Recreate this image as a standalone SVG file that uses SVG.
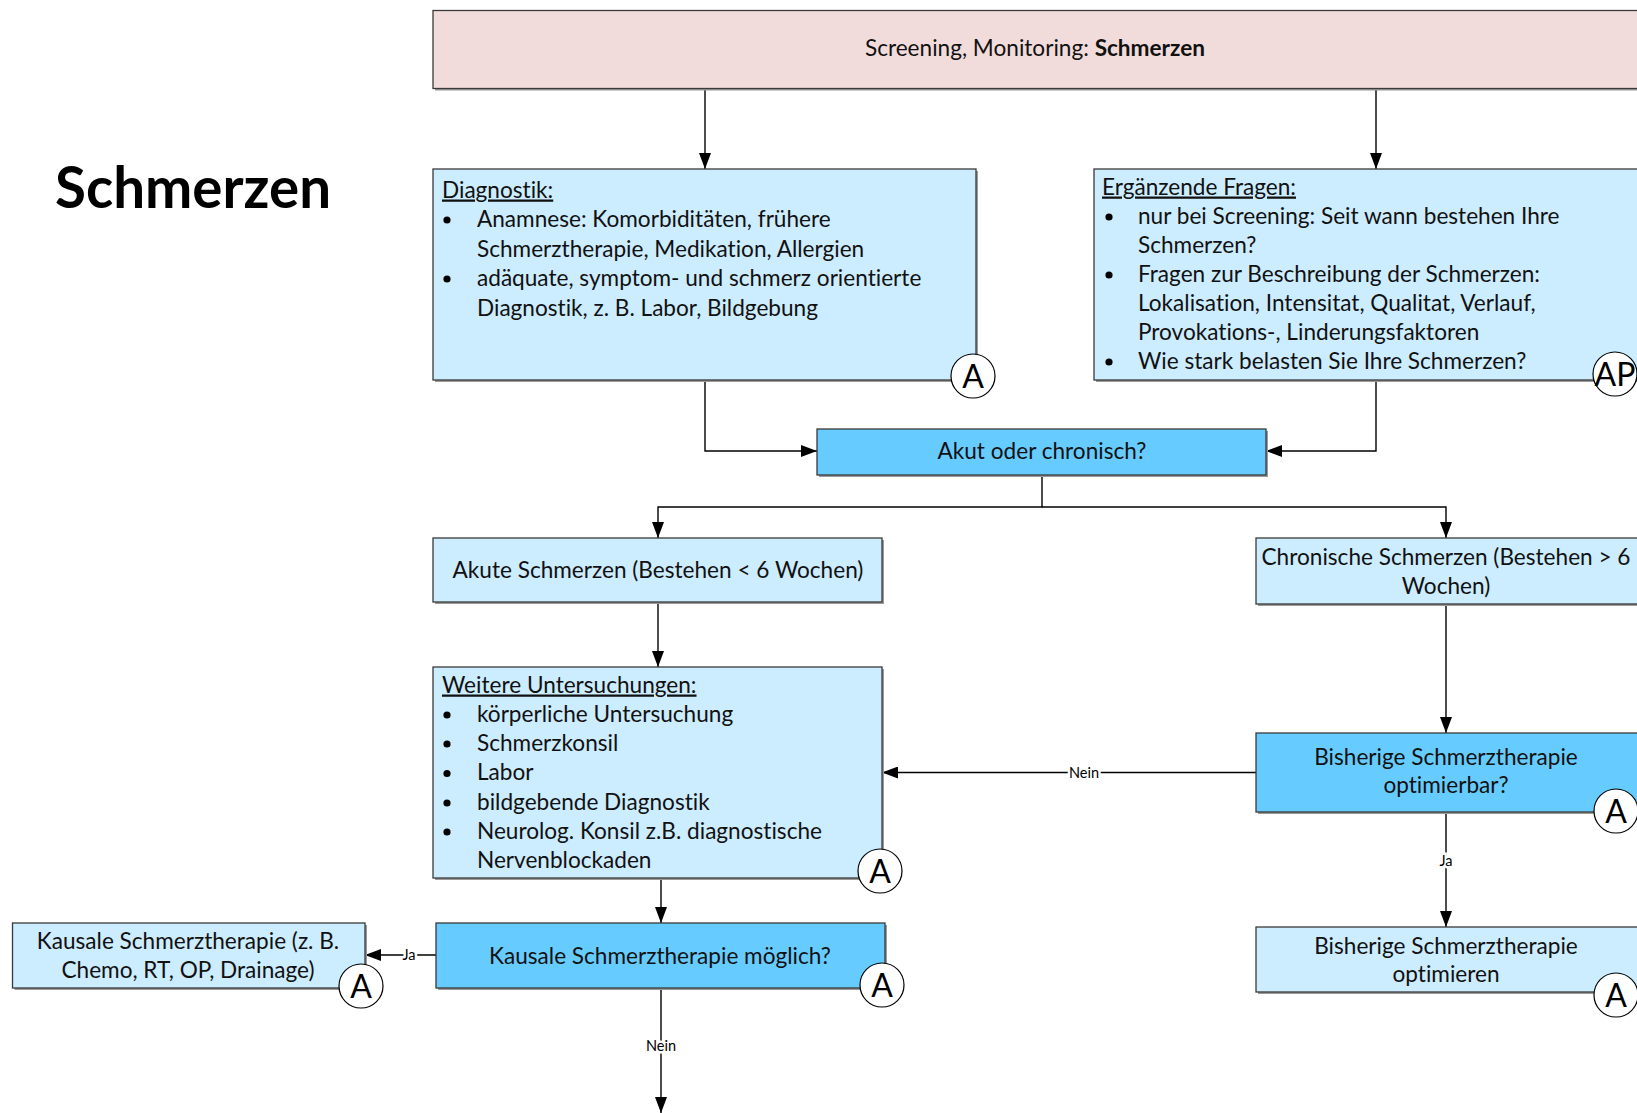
<svg xmlns="http://www.w3.org/2000/svg" width="1637" height="1113" viewBox="0 0 1637 1113">
  <defs>
    <marker id="arrow" viewBox="0 0 16 12" refX="16" refY="6" markerWidth="16" markerHeight="12" markerUnits="userSpaceOnUse" orient="auto">
      <path d="M0,0 L16,6 L0,12 z" fill="#000"/>
    </marker>
    <style>
      text { font-family: Lato, "Liberation Sans", sans-serif; fill: #111; font-variant-ligatures: none; }
      .box { stroke: #3a3a3a; stroke-width: 1.3; }
      .shadow { fill: #9a9a9a; }
      .pink { fill: #F2DCDB; }
      .light { fill: #CCECFF; }
      .strong { fill: #66CCFF; }
      .t { font-size: 22.6px; }
      .c { text-anchor: middle; }
      .hdr { text-decoration: underline; }
      .bullet { fill: #000; }
      .mark circle { fill: #fff; stroke: #000; stroke-width: 1.2; }
      .mark text { font-size: 32px; text-anchor: middle; fill: #000; }
      .edge { fill: none; stroke: #000; stroke-width: 1.4; }
      .lbl { font-size: 14.5px; text-anchor: middle; fill: #000; stroke: #fff; stroke-width: 5; paint-order: stroke; }
      .title { font-size: 56.5px; font-weight: bold; fill: #000; }
    </style>
  </defs>

  <rect width="1637" height="1113" fill="#fff"/>

  <!-- page title -->
  <text class="title" x="55" y="208">Schmerzen</text>

  <!-- connectors -->
  <g id="connectors">
    <path class="edge" d="M705,89 V169" marker-end="url(#arrow)"/>
    <path class="edge" d="M1376,89 V169" marker-end="url(#arrow)"/>
    <path class="edge" d="M705,380 V451 H817" marker-end="url(#arrow)"/>
    <path class="edge" d="M1376,380 V451 H1266" marker-end="url(#arrow)"/>
    <path class="edge" d="M1042,475 V507 H658 V538" marker-end="url(#arrow)"/>
    <path class="edge" d="M1042,507 H1446 V538" marker-end="url(#arrow)"/>
    <path class="edge" d="M658,602 V667" marker-end="url(#arrow)"/>
    <path class="edge" d="M1446,604 V733" marker-end="url(#arrow)"/>
    <path class="edge" d="M1256,772.5 H882" marker-end="url(#arrow)"/>
    <text class="lbl" x="1084" y="777.5">Nein</text>
    <path class="edge" d="M1446,812 V927" marker-end="url(#arrow)"/>
    <text class="lbl" x="1446" y="866">Ja</text>
    <path class="edge" d="M661,878 V923" marker-end="url(#arrow)"/>
    <path class="edge" d="M436,955 H365" marker-end="url(#arrow)"/>
    <text class="lbl" x="409" y="960">Ja</text>
    <path class="edge" d="M661,988 V1113" marker-end="url(#arrow)"/>
    <text class="lbl" x="661" y="1051">Nein</text>
  </g>

  <!-- Screening / Monitoring -->
  <g id="screening">
    <rect class="shadow" x="435" y="12" width="1204" height="78.5"/>
    <rect class="box pink" x="433" y="10.5" width="1206" height="78"/>
    <text class="t c" x="1035" y="56">Screening, Monitoring: <tspan font-weight="bold">Schmerzen</tspan></text>
  </g>

  <!-- Diagnostik -->
  <g id="diagnostik">
    <rect class="shadow" x="435" y="171" width="543" height="211"/>
    <rect class="box light" x="433" y="169" width="543" height="211"/>
    <text class="t hdr" x="442" y="197.5">Diagnostik:</text>
    <circle class="bullet" cx="447" cy="220" r="3.6"/>
    <text class="t" x="477" y="227">Anamnese: Komorbiditäten, frühere</text>
    <text class="t" x="477" y="256.5">Schmerztherapie, Medikation, Allergien</text>
    <circle class="bullet" cx="447" cy="279" r="3.6"/>
    <text class="t" x="477" y="286">adäquate, symptom- und schmerz orientierte</text>
    <text class="t" x="477" y="315.5">Diagnostik, z. B. Labor, Bildgebung</text>
    <g class="mark"><circle cx="973" cy="376" r="22"/><text x="973" y="387.5">A</text></g>
  </g>

  <!-- Ergänzende Fragen -->
  <g id="fragen">
    <rect class="shadow" x="1096" y="171" width="543" height="211"/>
    <rect class="box light" x="1094" y="169" width="545" height="211"/>
    <text class="t hdr" x="1102" y="194.5">Ergänzende Fragen:</text>
    <circle class="bullet" cx="1109" cy="217" r="3.6"/>
    <text class="t" x="1138" y="223.5">nur bei Screening: Seit wann bestehen Ihre</text>
    <text class="t" x="1138" y="252.5">Schmerzen?</text>
    <circle class="bullet" cx="1109" cy="275" r="3.6"/>
    <text class="t" x="1138" y="281.5">Fragen zur Beschreibung der Schmerzen:</text>
    <text class="t" x="1138" y="310.5">Lokalisation, Intensitat, Qualitat, Verlauf,</text>
    <text class="t" x="1138" y="339.5">Provokations-, Linderungsfaktoren</text>
    <circle class="bullet" cx="1109" cy="362" r="3.6"/>
    <text class="t" x="1138" y="368.5">Wie stark belasten Sie Ihre Schmerzen?</text>
    <g class="mark"><circle cx="1615" cy="374" r="22"/><text x="1615" y="385.5">AP</text></g>
  </g>

  <!-- Akut oder chronisch? -->
  <g id="akut-chronisch">
    <rect class="shadow" x="819" y="431" width="449" height="46"/>
    <rect class="box strong" x="817" y="429" width="449" height="46"/>
    <text class="t c" x="1042" y="459">Akut oder chronisch?</text>
  </g>

  <!-- Akute Schmerzen -->
  <g id="akut">
    <rect class="shadow" x="435" y="540" width="449" height="64"/>
    <rect class="box light" x="433" y="538" width="449" height="64"/>
    <text class="t c" x="658" y="578">Akute Schmerzen (Bestehen &lt; 6 Wochen)</text>
  </g>

  <!-- Chronische Schmerzen -->
  <g id="chronisch">
    <rect class="shadow" x="1258" y="540" width="381" height="66"/>
    <rect class="box light" x="1256" y="538" width="383" height="66"/>
    <text class="t c" x="1446" y="565">Chronische Schmerzen (Bestehen &gt; 6</text>
    <text class="t c" x="1446" y="593.5">Wochen)</text>
  </g>

  <!-- Weitere Untersuchungen -->
  <g id="untersuchungen">
    <rect class="shadow" x="435" y="669" width="449" height="211"/>
    <rect class="box light" x="433" y="667" width="449" height="211"/>
    <text class="t hdr" x="442" y="692.5">Weitere Untersuchungen:</text>
    <circle class="bullet" cx="447" cy="715" r="3.6"/>
    <text class="t" x="477" y="721.5">körperliche Untersuchung</text>
    <circle class="bullet" cx="447" cy="744" r="3.6"/>
    <text class="t" x="477" y="750.5">Schmerzkonsil</text>
    <circle class="bullet" cx="447" cy="773.5" r="3.6"/>
    <text class="t" x="477" y="780">Labor</text>
    <circle class="bullet" cx="447" cy="803" r="3.6"/>
    <text class="t" x="477" y="809.5">bildgebende Diagnostik</text>
    <circle class="bullet" cx="447" cy="832" r="3.6"/>
    <text class="t" x="477" y="838.5">Neurolog. Konsil z.B. diagnostische</text>
    <text class="t" x="477" y="867.5">Nervenblockaden</text>
    <g class="mark"><circle cx="880" cy="871" r="22"/><text x="880" y="882.5">A</text></g>
  </g>

  <!-- Bisherige Schmerztherapie optimierbar? -->
  <g id="optimierbar">
    <rect class="shadow" x="1258" y="735" width="381" height="79"/>
    <rect class="box strong" x="1256" y="733" width="383" height="79"/>
    <text class="t c" x="1446" y="764.5">Bisherige Schmerztherapie</text>
    <text class="t c" x="1446" y="792.5">optimierbar?</text>
    <g class="mark"><circle cx="1616" cy="811" r="22"/><text x="1616" y="822.5">A</text></g>
  </g>

  <!-- Bisherige Schmerztherapie optimieren -->
  <g id="optimieren">
    <rect class="shadow" x="1258" y="929" width="381" height="65"/>
    <rect class="box light" x="1256" y="927" width="383" height="65"/>
    <text class="t c" x="1446" y="953.5">Bisherige Schmerztherapie</text>
    <text class="t c" x="1446" y="981.5">optimieren</text>
    <g class="mark"><circle cx="1616" cy="995" r="22"/><text x="1616" y="1006.5">A</text></g>
  </g>

  <!-- Kausale Schmerztherapie möglich? -->
  <g id="kausal-moeglich">
    <rect class="shadow" x="438" y="925" width="449" height="65"/>
    <rect class="box strong" x="436" y="923" width="449" height="65"/>
    <text class="t c" x="660" y="963.5">Kausale Schmerztherapie möglich?</text>
    <g class="mark"><circle cx="882" cy="985" r="22"/><text x="882" y="996.5">A</text></g>
  </g>

  <!-- Kausale Schmerztherapie -->
  <g id="kausal">
    <rect class="shadow" x="14.5" y="925" width="352.5" height="65"/>
    <rect class="box light" x="12.5" y="923" width="352.5" height="65"/>
    <text class="t c" x="188" y="948.5">Kausale Schmerztherapie (z. B.</text>
    <text class="t c" x="188" y="977.5">Chemo, RT, OP, Drainage)</text>
    <g class="mark"><circle cx="361" cy="986" r="22"/><text x="361" y="997.5">A</text></g>
  </g>
</svg>
